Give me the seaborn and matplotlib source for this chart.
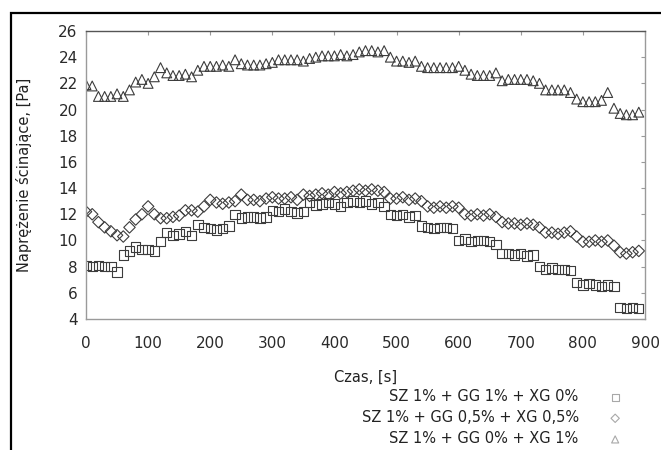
import numpy as np
import pandas as pd
import seaborn as sns
import matplotlib.pyplot as plt
from matplotlib.patches import Rectangle

# --- dane (co 10 s) ---
czas = np.arange(0, 900, 10)

seria_1 = [8.1, 8.0, 8.1, 8.0, 8.0, 7.6, 8.9, 9.2, 9.5, 9.3,
           9.3, 9.2, 9.9, 10.6, 10.4, 10.5, 10.7, 10.4, 11.2, 11.0,
           10.9, 10.8, 10.9, 11.1, 12.0, 11.7, 11.8, 11.8, 11.7, 11.8,
           12.3, 12.2, 12.4, 12.2, 12.1, 12.2, 12.9, 12.7, 12.8, 12.9,
           12.8, 12.6, 12.9, 13.0, 12.9, 13.0, 12.8, 12.9, 12.6, 12.0,
           11.9, 12.0, 11.8, 11.9, 11.1, 11.0, 10.9, 11.0, 11.0, 10.9,
           10.0, 10.1, 9.9, 10.0, 10.0, 9.9, 9.7, 9.0, 9.0, 8.9,
           9.0, 8.8, 8.9, 8.0, 7.8, 7.9, 7.8, 7.8, 7.7, 6.8,
           6.6, 6.7, 6.6, 6.5, 6.6, 6.5, 4.9, 4.8, 4.9, 4.8]

seria_2 = [12.2, 12.0, 11.4, 11.0, 10.7, 10.4, 10.3, 11.0, 11.6, 12.0,
           12.6, 12.0, 11.7, 11.7, 11.8, 11.9, 12.3, 12.3, 12.2, 12.6,
           13.1, 12.9, 12.8, 12.9, 13.0, 13.5, 13.1, 13.1, 13.0, 13.2,
           13.3, 13.2, 13.2, 13.3, 13.1, 13.5, 13.4, 13.5, 13.6, 13.5,
           13.7, 13.6, 13.7, 13.8, 13.9, 13.8, 13.9, 13.8, 13.7, 13.2,
           13.2, 13.3, 13.1, 13.2, 13.0, 12.6, 12.5, 12.6, 12.5, 12.6,
           12.5, 12.0, 11.9, 12.0, 11.9, 12.0, 11.8, 11.4, 11.3, 11.3,
           11.2, 11.3, 11.2, 11.0, 10.6, 10.6, 10.5, 10.6, 10.7, 10.3,
           9.9, 9.9, 10.0, 9.9, 10.0, 9.6, 9.1, 9.0, 9.1, 9.2]

seria_3 = [21.9, 21.8, 21.0, 21.0, 21.0, 21.2, 21.0, 21.5, 22.1, 22.3,
           22.0, 22.5, 23.2, 22.8, 22.6, 22.6, 22.7, 22.5, 23.0, 23.3,
           23.3, 23.3, 23.4, 23.3, 23.8, 23.5, 23.4, 23.4, 23.4, 23.5,
           23.6, 23.8, 23.8, 23.8, 23.8, 23.7, 23.9, 24.0, 24.1, 24.1,
           24.1, 24.2, 24.1, 24.2, 24.4, 24.5, 24.5, 24.4, 24.5, 24.0,
           23.7, 23.7, 23.6, 23.7, 23.3, 23.2, 23.2, 23.2, 23.2, 23.2,
           23.3, 23.0, 22.7, 22.6, 22.6, 22.6, 22.8, 22.2, 22.3, 22.3,
           22.3, 22.3, 22.2, 22.0, 21.5, 21.5, 21.5, 21.5, 21.3, 20.8,
           20.6, 20.6, 20.6, 20.7, 21.3, 20.1, 19.7, 19.6, 19.6, 19.8]

etykiety = ["SZ 1% + GG 1% + XG 0%",
            "SZ 1% + GG 0,5% + XG 0,5%",
            "SZ 1% + GG 0% + XG 1%"]
markery = ["s", "D", "^"]
rozmiary = [46, 34, 50]

# --- wykres ---
sns.set_style("white")
plt.rcParams['font.family'] = ['DejaVu Sans']

fig = plt.figure(figsize=(6.61, 4.5), dpi=100)
ax = fig.add_axes([86 / 661, 1 - 319 / 450, 559 / 661, 288 / 450])

for y, lab, m, sz in zip([seria_1, seria_2, seria_3], etykiety, markery, rozmiary):
    df = pd.DataFrame({"Czas": czas, "Tau": y})
    sns.scatterplot(data=df, x="Czas", y="Tau", ax=ax, marker=m, s=sz,
                    facecolor="none", edgecolor="#3c3c3c", linewidth=0.8,
                    label=lab, legend=True)

ax.set_xlim(0, 900)
ax.set_ylim(4, 26)
ax.set_xticks(range(0, 901, 100))
ax.set_yticks(range(4, 27, 2))

for s in ax.spines.values():
    s.set_color("#9a9a9a")
    s.set_linewidth(1.0)
ax.spines["top"].set_color("#555555")

ax.tick_params(axis="both", direction="in", length=3, color="#9a9a9a",
               labelsize=11, labelcolor="#2a2a2a", top=True, right=True)
ax.tick_params(axis="x", pad=12)
ax.tick_params(axis="y", pad=6)

ax.set_xlabel("Czas, [s]", fontsize=10.5, color="#222222")
ax.set_ylabel("Naprężenie ścinające, [Pa]", fontsize=10.5, color="#222222")
ax.xaxis.set_label_coords(0.5, -0.175)
ax.yaxis.set_label_coords(-0.097, 0.5)

h, l = ax.get_legend_handles_labels()
ax.get_legend().remove()
leg = fig.legend(h, l, loc="upper right", bbox_to_anchor=(621 / 661, 1 - 389 / 450),
                 frameon=False, markerfirst=False, fontsize=10.5,
                 handlelength=0.8, handletextpad=2.1, labelspacing=0.42,
                 borderpad=0, borderaxespad=0)
for hd, sz in zip(leg.legend_handles, [24, 18, 26]):
    hd.set_sizes([sz])
    hd.set_edgecolor("#a8a8a8")
for t in leg.get_texts():
    t.set_color("#222222")

# ramka obrazka
fig.add_artist(Rectangle((11 / 661, -0.5), 2, 1.5 - 13 / 450, transform=fig.transFigure,
                         fill=False, edgecolor="black", linewidth=1.6))

fig.savefig("out.png", dpi=100)
